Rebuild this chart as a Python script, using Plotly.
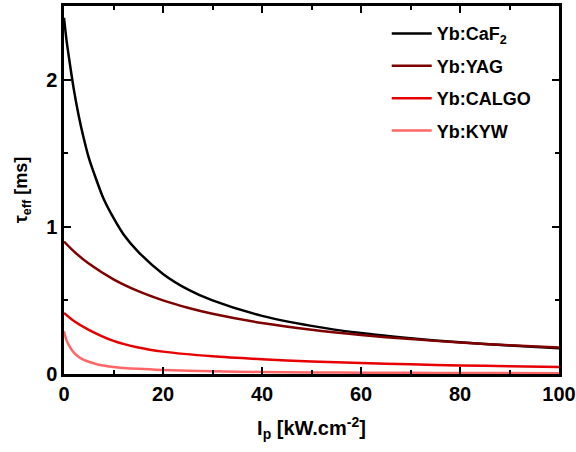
import plotly.graph_objects as go

# Pump intensity (kW/cm^2) and effective lifetime (ms)
x_caf2 = [0, 0.5, 1, 2, 3, 4, 5, 6, 8, 10, 12, 15, 20, 25, 30, 40, 50, 60, 70, 80, 90, 100]
y_caf2 = [2.42, 2.27, 2.15, 1.93, 1.75, 1.60, 1.47, 1.37, 1.19, 1.06, 0.95, 0.83, 0.68, 0.575,
          0.50, 0.395, 0.327, 0.278, 0.243, 0.215, 0.193, 0.175]

x_yag = [0, 2, 5, 10, 15, 20, 25, 30, 40, 50, 60, 70, 80, 90, 100]
y_yag = [0.90, 0.833, 0.75, 0.643, 0.5625, 0.50, 0.45, 0.409, 0.346, 0.30, 0.265, 0.237,
         0.214, 0.196, 0.18]

x_calgo = [0, 2, 5, 10, 15, 20, 30, 40, 50, 60, 70, 80, 90, 100]
y_calgo = [0.415, 0.36, 0.30, 0.225, 0.18, 0.152, 0.12, 0.10, 0.085, 0.075, 0.066, 0.058,
           0.053, 0.048]

x_kyw = [0, 0.5, 1, 2, 3, 4, 5, 7, 10, 15, 20, 30, 40, 50, 60, 70, 80, 90, 100]
y_kyw = [0.29, 0.23, 0.195, 0.145, 0.115, 0.096, 0.083, 0.063, 0.048, 0.035, 0.027, 0.018,
         0.014, 0.011, 0.009, 0.008, 0.007, 0.006, 0.0055]

names = ["Yb:CaF<sub>2</sub>", "Yb:YAG", "Yb:CALGO", "Yb:KYW"]
colors = ["#000000", "#7f0000", "#e60000", "#ff6666"]
series = [(x_caf2, y_caf2), (x_yag, y_yag), (x_calgo, y_calgo), (x_kyw, y_kyw)]

FONT = "Liberation Sans, Arial, sans-serif"

fig = go.Figure()
for i, ((xs, ys), n, c) in enumerate(zip(series, names, colors)):
    fig.add_trace(go.Scatter(x=xs, y=ys, mode="lines", name=n, legendgroup=str(i),
                             line=dict(color=c, width=2.5, shape="spline", smoothing=0.8)))

axis_common = dict(showline=True, linecolor="black", linewidth=2.5, mirror="allticks",
                   ticks="inside", ticklen=7, tickwidth=2, tickcolor="black",
                   showgrid=False, zeroline=False,
                   tickfont=dict(family=FONT, size=20, color="black", weight="bold"))

fig.update_xaxes(range=[0, 100], tickvals=[0, 20, 40, 60, 80, 100],
                 minor=dict(tickvals=[10, 30, 50, 70, 90], ticks="inside", ticklen=4,
                            tickwidth=2, tickcolor="black"),
                 title=dict(text="I<sub>p</sub> [kW.cm<sup>-2</sup>]", standoff=18,
                            font=dict(family=FONT, size=20, color="black", weight="bold")),
                 automargin=False, **axis_common)
fig.update_yaxes(range=[0, 2.5], tickvals=[0, 1, 2],
                 minor=dict(tickvals=[0.5, 1.5], ticks="inside", ticklen=4,
                            tickwidth=2, tickcolor="black"),
                 title=dict(text="τ<sub>eff</sub> [ms]", standoff=14,
                            font=dict(family=FONT, size=18, color="black", weight="bold")),
                 automargin=False, **axis_common)

fig.update_layout(
    width=576, height=452,
    margin=dict(l=64, r=17, t=6, b=78),
    plot_bgcolor="white", paper_bgcolor="white",
    showlegend=True,
    legend=dict(x=0.652, y=0.975, xanchor="left", yanchor="top", bgcolor="rgba(0,0,0,0)",
                tracegroupgap=6, itemwidth=40,
                font=dict(family=FONT, size=18, color="black", weight="bold")),
)

fig.write_html("out.html", config={"displayModeBar": False},
               post_script="document.body.style.margin='0';")
